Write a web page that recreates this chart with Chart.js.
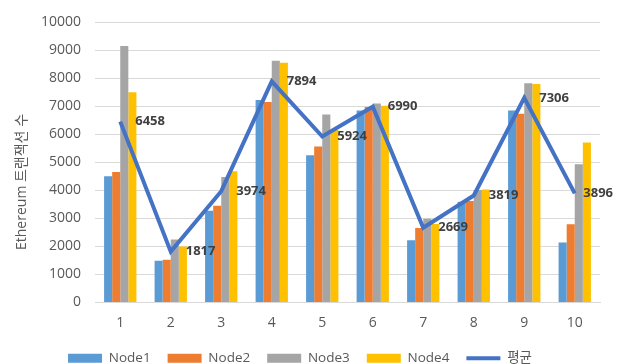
<!DOCTYPE html>
<html>
<head>
<meta charset="utf-8">
<script src="https://cdn.jsdelivr.net/npm/chart.js@4"></script>
<style>
  html, body { margin: 0; padding: 0; background: #fff; }
  #wrap { width: 626px; height: 364px; }
</style>
</head>
<body>
<div id="wrap"><canvas id="chart" width="626" height="364"></canvas></div>
<script>
const FONT = "'Open Sans', 'Noto Sans CJK KR', sans-serif";

const rounds = ["1", "2", "3", "4", "5", "6", "7", "8", "9", "10"];
const node1 = [4510, 1490, 3280, 7230, 5260, 6855, 2223, 3600, 6855, 2138];
const node2 = [4656, 1530, 3450, 7160, 5570, 6980, 2660, 3620, 6738, 2790];
const node3 = [9160, 2250, 4480, 8630, 6710, 7103, 2990, 4020, 7826, 4940];
const node4 = [7506, 1998, 4686, 8556, 6156, 7022, 2803, 4036, 7805, 5716];
const average = [6458, 1817, 3974, 7894, 5924, 6990, 2669, 3819, 7306, 3896];
const yTitle = "Ethereum 트랜잭션 수";

function barSet(label, data, color) {
  return {
    type: "bar",
    label,
    data,
    backgroundColor: color,
    borderWidth: 0,
    categoryPercentage: 0.64,
    barPercentage: 1,
    pointStyle: "rect",
    order: 1,
  };
}

// value labels to the right of each point of the average line,
// pulled back a bit when they would run far past the plot edge
const lineLabels = {
  id: "lineLabels",
  afterDatasetsDraw(chart) {
    const meta = chart.getDatasetMeta(4);
    const ctx = chart.ctx;
    const limit = chart.chartArea.right + 13;
    ctx.save();
    ctx.font = "bold 13px " + FONT;
    ctx.fillStyle = "#404040";
    ctx.textAlign = "left";
    ctx.textBaseline = "middle";
    meta.data.forEach((pt, i) => {
      const text = String(average[i]);
      const w = ctx.measureText(text).width;
      const x = Math.min(pt.x + 15, limit - w);
      ctx.fillText(text, x, pt.y);
    });
    ctx.restore();
  },
};

// rotated y title, placed a little below the vertical middle
const yTitlePlugin = {
  id: "yTitlePlugin",
  afterDraw(chart) {
    const ctx = chart.ctx;
    ctx.save();
    ctx.translate(22, 182);
    ctx.rotate(-Math.PI / 2);
    ctx.font = "14px " + FONT;
    ctx.fillStyle = "#595959";
    ctx.textAlign = "center";
    ctx.textBaseline = "middle";
    ctx.fillText(yTitle, 0, 0);
    ctx.restore();
  },
};

new Chart(document.getElementById("chart"), {
  data: {
    labels: rounds,
    datasets: [
      barSet("Node1", node1, "#5B9BD5"),
      barSet("Node2", node2, "#ED7D31"),
      barSet("Node3", node3, "#A5A5A5"),
      barSet("Node4", node4, "#FFC000"),
      {
        type: "line",
        label: "평균",
        data: average,
        borderColor: "#4472C4",
        backgroundColor: "#4472C4",
        borderWidth: 4,
        pointRadius: 0,
        tension: 0,
        pointStyle: "line",
        order: 0,
      },
    ],
  },
  options: {
    responsive: false,
    animation: false,
    layout: { padding: { top: 11, right: 26, bottom: -11, left: 0 } },
    plugins: {
      tooltip: { enabled: false },
      legend: {
        position: "bottom",
        labels: {
          usePointStyle: true,
          pointStyleWidth: 34,
          boxHeight: 9,
          padding: 17,
          color: "#595959",
          font: { family: FONT, size: 13.5 },
          sort: (a, b) => a.datasetIndex - b.datasetIndex,
        },
      },
    },
    scales: {
      x: {
        afterFit: (scale) => { scale.height = 32; }, // tick padding is counted twice by default
        grid: { display: false, drawTicks: false },
        border: { display: true, color: "#D9D9D9" },
        ticks: { color: "#595959", padding: 12, font: { family: FONT, size: 14 } },
      },
      y: {
        min: 0,
        max: 10000,
        afterFit: (scale) => { scale.width = 95; },
        grid: { color: "#D9D9D9", drawTicks: false },
        border: { display: false },
        ticks: {
          stepSize: 1000,
          color: "#595959",
          padding: 14,
          font: { family: FONT, size: 14 },
          callback: (v) => String(v),
        },
      },
    },
  },
  plugins: [lineLabels, yTitlePlugin],
});
</script>
</body>
</html>
